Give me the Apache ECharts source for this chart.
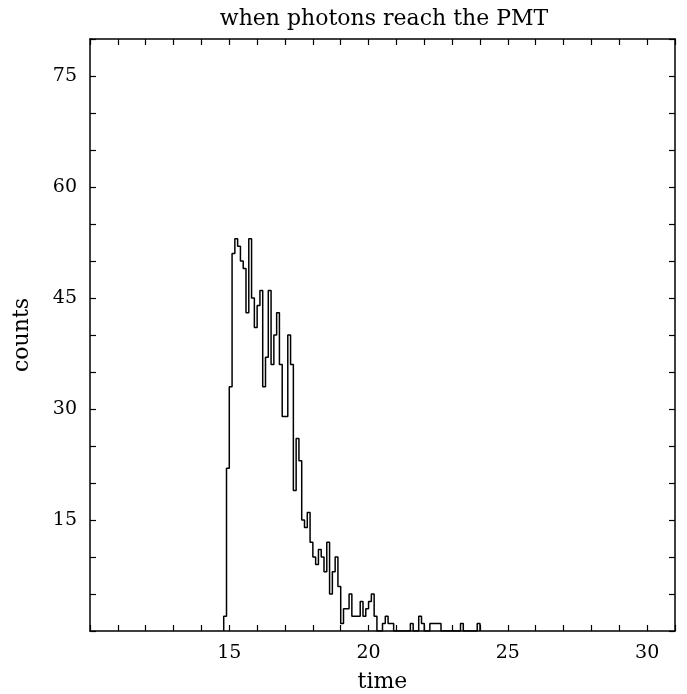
<!DOCTYPE html>
<html><head><meta charset="utf-8">
<script src="https://cdn.jsdelivr.net/npm/echarts@6/dist/echarts.min.js"></script>
<style>html,body{margin:0;padding:0;background:#fff}#c{width:687px;height:694px}</style>
</head><body><div id="c"></div>
<script>
const titleText = 'when photons reach the PMT';
const xName = 'time';
const yName = 'counts';
const binStart = 14.8;
const binWidth = 0.1;
const counts = [2,
  22,33,51,53,52,50,49,43,53,45,41,44,46,33,37,46,36,40,43,36,
  29,29,40,36,19,26,23,15,14,16,12,10,9,11,10,8,12,5,8,10,
  6,1,3,3,5,2,2,2,4,2,3,4,5,2,0,0,1,2,1,1,
  0,0,0,0,0,0,1,0,0,2,1,0,0,1,1,1,1,0,0,0,
  0,0,0,0,1,0,0,0,0,0,1];
const xTickLabels = [15, 20, 25, 30];
const yTickLabels = [15, 30, 45, 60, 75];
const xRange = [10, 31];
const yRange = [0, 80];

const pts = [[binStart, 0]];
counts.forEach((c, i) => pts.push([+(binStart + i * binWidth).toFixed(2), c]));
pts.push([+(binStart + counts.length * binWidth).toFixed(2), 0]);

const font = 'DejaVu Serif';
const lineStyle = { color: '#000', width: 1.5 };
function xAx(pos, labels) {
  return {
    type: 'value', position: pos, min: xRange[0], max: xRange[1], interval: 1,
    axisLine: { show: true, onZero: false, lineStyle },
    axisTick: { show: true, inside: true, length: 6, lineStyle: { color: '#000', width: 1.2 } },
    splitLine: { show: false },
    axisLabel: labels ? {
      show: true, margin: 13, color: '#000', fontFamily: font, fontSize: 19,
      formatter: v => xTickLabels.includes(v) ? String(v) : ''
    } : { show: false },
    name: labels ? xName : '', nameLocation: 'middle', nameGap: 40,
    nameTextStyle: { color: '#000', fontFamily: font, fontSize: 22 }
  };
}
function yAx(pos, labels) {
  return {
    type: 'value', position: pos, min: yRange[0], max: yRange[1], interval: 5,
    axisLine: { show: true, onZero: false, lineStyle },
    axisTick: { show: true, inside: true, length: 6, lineStyle: { color: '#000', width: 1.2 } },
    splitLine: { show: false },
    axisLabel: labels ? {
      show: true, margin: 13, color: '#000', fontFamily: font, fontSize: 19,
      formatter: v => yTickLabels.includes(v) ? String(v) : ''
    } : { show: false },
    name: labels ? yName : '', nameLocation: 'middle', nameGap: 57, nameRotate: 90,
    nameTextStyle: { color: '#000', fontFamily: font, fontSize: 22 }
  };
}
const chart = echarts.init(document.getElementById('c'), null, { renderer: 'canvas' });
chart.setOption({
  backgroundColor: '#fff',
  animation: false,
  title: {
    text: titleText, left: 379, top: 3, textAlign: 'center',
    textStyle: { color: '#000', fontFamily: font, fontSize: 22, fontWeight: 'normal' }
  },
  grid: { left: 90, right: 12, top: 39, bottom: 63, containLabel: false, outerBoundsMode: 'none' },
  xAxis: [xAx('bottom', true), xAx('top', false)],
  yAxis: [yAx('left', true), yAx('right', false)],
  series: [{
    type: 'line', step: 'end', data: pts, showSymbol: false, symbol: 'none',
    lineStyle: { color: '#000', width: 1.5 }, xAxisIndex: 0, yAxisIndex: 0
  }]
});
</script></body></html>
